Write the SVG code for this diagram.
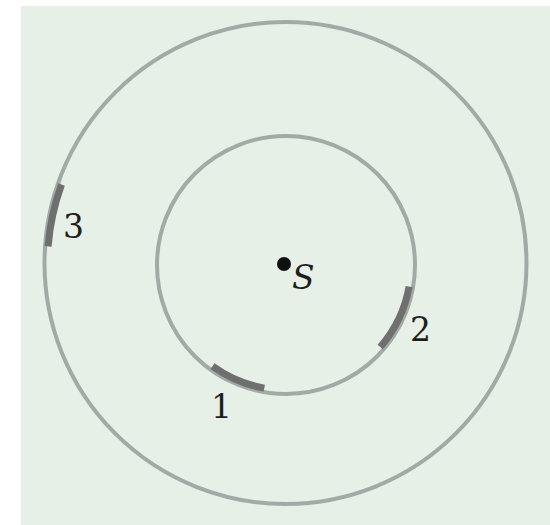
<svg xmlns="http://www.w3.org/2000/svg" width="550" height="525" viewBox="0 0 550 525">
  <style>
    .ring { fill: none; stroke: #a2aaa6; stroke-width: 4; }
    .det { fill: none; stroke: #6f6f6f; stroke-width: 7; stroke-linecap: butt; }
    .lbl { font-family: 'DejaVu Serif', 'Liberation Serif', serif; font-size: 33px; fill: #1e1e1e; }
    .it { font-style: italic; font-size: 33px; }
  </style>
  <rect x="0" y="0" width="550" height="525" fill="#ffffff"/>
  <rect x="21" y="6" width="529" height="519" fill="#e6f0e7"/>
  <g id="outer-circle">
    <circle class="ring" cx="285.5" cy="263" r="241"/>
  </g>
  <g id="inner-circle">
    <circle class="ring" cx="286" cy="265" r="129"/>
  </g>
  <g id="source">
    <circle cx="284" cy="264" r="7" fill="#111111"/>
    <text class="lbl it" x="292" y="289">S</text>
  </g>
  <g id="detector-1">
    <path class="det" d="M264.3,388.1 A125,125 0 0 1 212.5,366.1"/>
    <text class="lbl" x="211" y="418">1</text>
  </g>
  <g id="detector-2">
    <path class="det" d="M409.1,286.7 A125,125 0 0 1 380.3,347.0"/>
    <text class="lbl" x="410" y="341">2</text>
  </g>
  <g id="detector-3">
    <path class="det" d="M48.1,246.4 A238,238 0 0 1 61.5,184.5"/>
    <text class="lbl" x="63" y="238">3</text>
  </g>
</svg>
